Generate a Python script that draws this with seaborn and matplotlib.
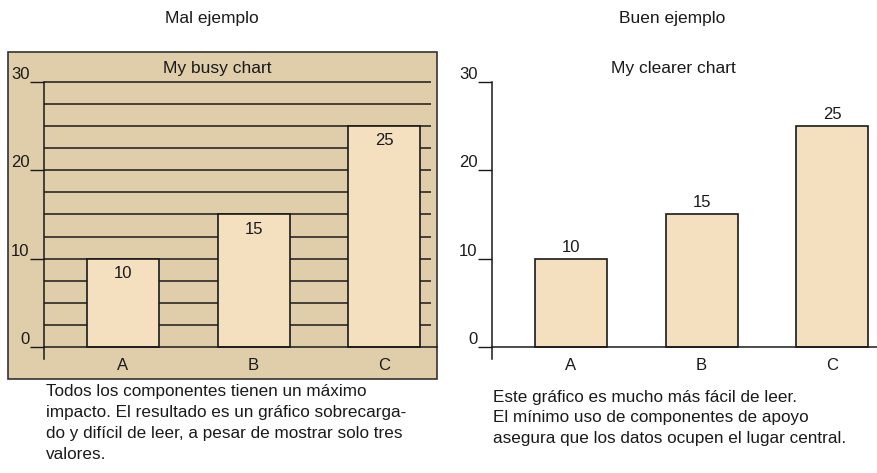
import matplotlib
matplotlib.use("Agg")
import matplotlib.pyplot as plt
import seaborn as sns
import numpy as np
from matplotlib.patches import Rectangle

categories = ["A", "B", "C"]
values = [10, 15, 25]
y_ticks = [0, 10, 20, 30]
grid_levels = [2.5, 5, 7.5, 10, 12.5, 15, 17.5, 20, 22.5, 25, 27.5, 30]

header_left = "Mal ejemplo"
header_right = "Buen ejemplo"
title_left = "My busy chart"
title_right = "My clearer chart"
caption_left = ("Todos los componentes tienen un máximo\n"
                "impacto. El resultado es un gráfico sobrecarga-\n"
                "do y difícil de leer, a pesar de mostrar solo tres\n"
                "valores.")
caption_right = ("Este gráfico es mucho más fácil de leer.\n"
                 "El mínimo uso de componentes de apoyo\n"
                 "asegura que los datos ocupen el lugar central.")

sns.set_theme(style="white")
plt.rcParams["font.family"] = ["Liberation Sans", "DejaVu Sans"]

W, H = 877, 473
fig = plt.figure(figsize=(W / 100, H / 100), dpi=100)
fig.patch.set_facecolor("white")

BG = "#E0CDAA"
BAR = "#F4E0BF"
INK = "#1a1a1a"
FS = 12

def fx(px):
    return px / W

def fy(py):
    return 1 - py / H

# background box of the busy chart
fig.patches.append(Rectangle((fx(8), fy(379)), fx(437) - fx(8), fy(52) - fy(379),
                             transform=fig.transFigure, facecolor=BG,
                             edgecolor="#333333", linewidth=1.2, zorder=-5))

px_per_unit_y = (347 - 82) / 30.0
ymin = -(359 - 347) / px_per_unit_y
px_per_cat = 130.5

def make_axes(left_px, right_px, first_center_px):
    ax = fig.add_axes([fx(left_px), fy(359), fx(right_px) - fx(left_px), fy(82) - fy(359)])
    ax.set_facecolor("none")
    ax.patch.set_visible(False)
    sns.barplot(x=categories, y=values, ax=ax, width=72 / px_per_cat, color=BAR,
                edgecolor=INK, linewidth=1.2, saturation=1, zorder=2)
    ax.set_xlim((left_px - first_center_px) / px_per_cat, (right_px - first_center_px) / px_per_cat)
    ax.set_ylim(ymin, 30)
    for s in ["top", "right"]:
        ax.spines[s].set_visible(False)
    ax.spines["bottom"].set_position(("data", 0))
    ax.spines["left"].set_color(INK)
    ax.spines["bottom"].set_color(INK)
    ax.spines["left"].set_linewidth(1.1)
    ax.spines["bottom"].set_linewidth(1.1)
    ax.set_yticks(y_ticks)
    ax.set_yticklabels([str(t) for t in y_ticks])
    ax.tick_params(axis="y", left=True, length=10, width=1.0, color=INK, pad=0.5,
                   labelsize=FS, labelcolor=INK, direction="out")
    ax.tick_params(axis="x", bottom=False, length=0, pad=8, labelsize=FS, labelcolor=INK)
    plt.setp(ax.get_yticklabels(), va="bottom")
    ax.set_xlabel("")
    ax.set_ylabel("")
    return ax

ax1 = make_axes(44, 437, 123)
ax1.hlines(grid_levels, (44 - 123) / px_per_cat, (431 - 123) / px_per_cat,
           color=INK, linewidth=1.1, zorder=0.5, clip_on=False)
ax1.bar_label(ax1.containers[0], labels=[str(v) for v in values], padding=-16,
              fontsize=FS, color=INK)

ax2 = make_axes(492, 877, 571)
ax2.bar_label(ax2.containers[0], labels=[str(v) for v in values], padding=3,
              fontsize=FS, color=INK)

fig.text(fx(212), fy(18), header_left, ha="center", va="center", fontsize=12.5, color=INK)
fig.text(fx(672), fy(18), header_right, ha="center", va="center", fontsize=12.5, color=INK)
fig.text(fx(217), fy(69), title_left, ha="center", va="center", fontsize=12.5, color=INK)
fig.text(fx(673), fy(69), title_right, ha="center", va="center", fontsize=12.5, color=INK)

fig.text(fx(46), fy(384), caption_left, ha="left", va="top", fontsize=12.3,
         color=INK, linespacing=1.5)
fig.text(fx(493), fy(390), caption_right, ha="left", va="top", fontsize=12.3,
         color=INK, linespacing=1.45)

fig.savefig("out.png", dpi=100)
